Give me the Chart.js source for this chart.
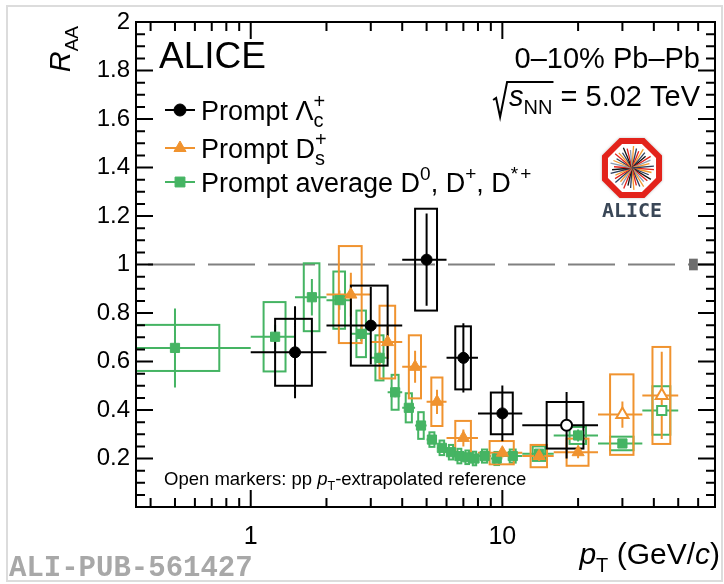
<!DOCTYPE html>
<html>
<head>
<meta charset="utf-8">
<script src="https://cdn.jsdelivr.net/npm/chart.js@4"></script>
<style>
  html, body { margin: 0; padding: 0; background: #fff; }
  canvas { display: block; }
</style>
</head>
<body>
<canvas id="raa" width="724" height="584"></canvas>
<script>
// Prompt Lambda_c+ (black circles)
const lcPt    = [1.5, 3, 5, 7, 10, 18];
const lcR     = [0.638, 0.748, 1.02, 0.615, 0.386, 0.337];
const lcBinLo = [1, 2, 4, 6, 8, 12];
const lcBinHi = [2, 4, 6, 8, 12, 24];
const lcStat  = [0.19, 0.16, 0.19, 0.143, 0.115, 0.137];
const lcSyst  = [0.138, 0.165, 0.21, 0.13, 0.086, 0.096];
const lcBoxHw = [0.25, 0.5, 0.5, 0.5, 1, 3];
const lcOpen  = [false, false, false, false, false, true];

// Prompt Ds+ (orange triangles)
const dsPt    = [2.5, 3.5, 4.5, 5.5, 7, 10, 14, 20, 30, 43];
const dsR     = [0.876, 0.68, 0.578, 0.434, 0.285, 0.224, 0.21, 0.226, 0.381, 0.46];
const dsBinLo = [2, 3, 4, 5, 6, 8, 12, 16, 24, 36];
const dsBinHi = [3, 4, 5, 6, 8, 12, 16, 24, 36, 50];
const dsStat  = [0.09, 0.07, 0.066, 0.05, 0.035, 0.02, 0.02, 0.025, 0.054, 0.18];
const dsSyst  = [0.2, 0.15, 0.13, 0.1, 0.07, 0.048, 0.046, 0.056, 0.166, 0.2];
const dsBoxHw = [0.26, 0.25, 0.25, 0.28, 0.5, 1.1, 1.05, 2, 3.2, 3.5];
const dsOpen  = [false, false, false, false, false, false, false, false, true, true];

// Prompt average D0, D+, D*+ (green squares)
const dPt    = [0.5, 1.25, 1.75, 2.25, 2.75, 3.25, 3.75, 4.25, 4.75, 5.25, 5.75, 6.25, 6.75, 7.25, 7.75, 8.5, 9.5, 11, 14, 20, 30, 43];
const dR     = [0.656, 0.702, 0.865, 0.853, 0.714, 0.615, 0.473, 0.409, 0.336, 0.278, 0.244, 0.226, 0.21, 0.205, 0.2, 0.21, 0.2, 0.21, 0.22, 0.295, 0.262, 0.398];
const dBinLo = [0, 1, 1.5, 2, 2.5, 3, 3.5, 4, 4.5, 5, 5.5, 6, 6.5, 7, 7.5, 8, 9, 10, 12, 16, 24, 36];
const dBinHi = [1, 1.5, 2, 2.5, 3, 3.5, 4, 4.5, 5, 5.5, 6, 6.5, 7, 7.5, 8, 9, 10, 12, 16, 24, 36, 50];
const dStat  = [0.163, 0.05, 0.075, 0.04, 0.03, 0.025, 0.02, 0.015, 0.012, 0.01, 0.01, 0.01, 0.01, 0.01, 0.01, 0.01, 0.01, 0.012, 0.015, 0.025, 0.015, 0.02];
const dSyst  = [0.095, 0.143, 0.14, 0.118, 0.096, 0.093, 0.072, 0.06, 0.055, 0.03, 0.03, 0.03, 0.03, 0.028, 0.028, 0.027, 0.027, 0.027, 0.03, 0.035, 0.028, 0.1];
const dBoxHw = [0.25, 0.125, 0.125, 0.12, 0.12, 0.12, 0.12, 0.12, 0.12, 0.12, 0.12, 0.12, 0.12, 0.12, 0.12, 0.2, 0.2, 0.3, 0.8, 1.5, 3.2, 3.5];
const dOpen  = dPt.map((p, i) => i === dPt.length - 1);

// normalisation uncertainty box at R_AA = 1
const normPt = 57.5;
const normHw = 2.3;
const normUnc = 0.024;

const xTickValues = [1, 10];

const BLACK = '#000000';
const ORANGE = '#f0932f';
const GREEN = '#45b463';
const FONT = '"Liberation Sans", Arial, sans-serif';

function font(size, italic, bold) {
  return (italic ? 'italic ' : '') + (bold ? 'bold ' : '') + size + 'px ' + FONT;
}

// text with sub/superscripts: parts = [{t, s, i, dy, k, g}] (k: keep x for stacked sub/sup, g: extra gap after)
function richWidth(ctx, parts) {
  let w = 0, hold = 0;
  for (const p of parts) {
    ctx.font = font(p.s, p.i);
    const pw = ctx.measureText(p.t).width;
    if (p.k) hold = pw; else { w += Math.max(pw, hold) + (p.g || 0); hold = 0; }
  }
  return w + hold;
}
function drawRich(ctx, parts, x, y, align) {
  const w = richWidth(ctx, parts);
  let cx = align === 'right' ? x - w : (align === 'center' ? x - w / 2 : x);
  let hold = 0;
  ctx.textAlign = 'left';
  ctx.textBaseline = 'alphabetic';
  for (const p of parts) {
    ctx.font = font(p.s, p.i);
    const pw = ctx.measureText(p.t).width;
    ctx.fillText(p.t, cx, y + (p.dy || 0));
    if (p.k) hold = pw; else { cx += Math.max(pw, hold) + (p.g || 0); hold = 0; }
  }
  return cx;
}

const series = [
  { pt: dPt, r: dR, lo: dBinLo, hi: dBinHi, stat: dStat, syst: dSyst, hw: dBoxHw, color: GREEN },
  { pt: dsPt, r: dsR, lo: dsBinLo, hi: dsBinHi, stat: dsStat, syst: dsSyst, hw: dsBoxHw, color: ORANGE },
  { pt: lcPt, r: lcR, lo: lcBinLo, hi: lcBinHi, stat: lcStat, syst: lcSyst, hw: lcBoxHw, color: BLACK }
];

function drawMarker(ctx, style, x, y, color, r) {
  if (Chart.helpers && Chart.helpers.drawPoint) {
    ctx.fillStyle = color;
    ctx.strokeStyle = color;
    ctx.lineWidth = 1;
    Chart.helpers.drawPoint(ctx, { pointStyle: style, radius: r, borderWidth: 1, rotation: 0 }, x, y);
  }
}

function drawLogo(ctx, cx, cy) {
  const rOut = 32.5;
  const oct = (rad) => {
    ctx.beginPath();
    for (let k = 0; k < 8; k++) {
      const a = Math.PI / 8 + k * Math.PI / 4;
      const x = cx + rad * Math.cos(a), y = cy + rad * Math.sin(a);
      if (k === 0) ctx.moveTo(x, y); else ctx.lineTo(x, y);
    }
    ctx.closePath();
  };
  ctx.save();
  ctx.shadowColor = 'rgba(0,0,0,0.25)';
  ctx.shadowBlur = 3;
  oct(rOut); ctx.fillStyle = '#e3231b'; ctx.fill();
  ctx.shadowBlur = 0;
  oct(rOut - 6.5); ctx.fillStyle = '#ffffff'; ctx.fill();
  const rayColors = ['#e3231b', '#f39a2f', '#2c3e5c', '#111111', '#e3231b', '#8a9ab0', '#f39a2f', '#2c3e5c'];
  ctx.lineWidth = 1.3;
  for (let i = 0; i < 40; i++) {
    const a = i * Math.PI * 2 / 40 + 0.07;
    const len = 22 - (i % 3) * 2;
    ctx.strokeStyle = rayColors[i % rayColors.length];
    ctx.beginPath();
    ctx.moveTo(cx, cy);
    ctx.lineTo(cx + len * Math.cos(a), cy + len * Math.sin(a));
    ctx.stroke();
  }
  ctx.fillStyle = '#3a4757';
  ctx.font = 'bold 20px "DejaVu Sans Mono", monospace';
  ctx.textAlign = 'center';
  ctx.textBaseline = 'alphabetic';
  ctx.fillText('ALICE', cx, cy + 49);
  ctx.restore();
}

const decor = {
  id: 'decor',
  beforeDraw(chart) {
    const ctx = chart.ctx;
    ctx.save();
    ctx.strokeStyle = '#dcdcdc';
    ctx.lineWidth = 2;
    ctx.strokeRect(7, 6, 715, 575);
    ctx.restore();
  },
  beforeDatasetsDraw(chart) {
    const ctx = chart.ctx, a = chart.chartArea;
    const xs = chart.scales.x, ys = chart.scales.y;
    const px = v => xs.getPixelForValue(Math.max(v, xs.min));
    const py = v => ys.getPixelForValue(v);
    ctx.save();
    ctx.beginPath();
    ctx.rect(a.left, a.top, a.right - a.left, a.bottom - a.top);
    ctx.clip();
    // dashed line at 1
    ctx.strokeStyle = '#808080';
    ctx.lineWidth = 2;
    ctx.setLineDash([47, 13]);
    ctx.lineDashOffset = -12;
    ctx.beginPath();
    ctx.moveTo(a.left, py(1));
    ctx.lineTo(a.right, py(1));
    ctx.stroke();
    ctx.setLineDash([]);
    ctx.fillStyle = '#6e6e6e';
    const nx0 = px(normPt - normHw), nx1 = px(normPt + normHw);
    ctx.fillRect(nx0, py(1 + normUnc), nx1 - nx0, py(1 - normUnc) - py(1 + normUnc));
    // systematic boxes and statistical bars
    for (const s of series) {
      ctx.strokeStyle = s.color;
      ctx.lineWidth = 2;
      s.pt.forEach((pt, i) => {
        const x0 = px(pt - s.hw[i]), x1 = px(pt + s.hw[i]);
        const y0 = py(s.r[i] + s.syst[i]), y1 = py(s.r[i] - s.syst[i]);
        ctx.strokeRect(x0, y0, x1 - x0, y1 - y0);
      });
      ctx.beginPath();
      s.pt.forEach((pt, i) => {
        ctx.moveTo(px(s.lo[i]), py(s.r[i]));
        ctx.lineTo(px(s.hi[i]), py(s.r[i]));
        ctx.moveTo(px(pt), py(s.r[i] - s.stat[i]));
        ctx.lineTo(px(pt), py(s.r[i] + s.stat[i]));
      });
      ctx.stroke();
    }
    ctx.restore();
  },
  afterDraw(chart) {
    const ctx = chart.ctx, a = chart.chartArea;
    const xs = chart.scales.x, ys = chart.scales.y;
    ctx.save();
    // frame
    ctx.strokeStyle = '#000';
    ctx.lineWidth = 2;
    ctx.strokeRect(a.left, a.top, a.right - a.left, a.bottom - a.top);
    // ticks
    ctx.beginPath();
    for (let k = 0; k <= 40; k++) {
      const v = k * 0.05;
      const y = ys.getPixelForValue(v);
      const len = k % 4 === 0 ? 17 : 9;
      ctx.moveTo(a.left, y); ctx.lineTo(a.left + len, y);
      ctx.moveTo(a.right, y); ctx.lineTo(a.right - len, y);
    }
    for (const d of [0.1, 1, 10]) {
      for (let k = 1; k <= 9; k++) {
        const v = k * d;
        if (v < xs.min || v > xs.max) continue;
        const x = xs.getPixelForValue(v);
        const len = k === 1 ? 17 : 9;
        ctx.moveTo(x, a.bottom); ctx.lineTo(x, a.bottom - len);
        ctx.moveTo(x, a.top); ctx.lineTo(x, a.top + len);
      }
    }
    ctx.stroke();

    ctx.fillStyle = '#000';
    // ALICE label
    ctx.font = font(37);
    ctx.textAlign = 'left';
    ctx.textBaseline = 'alphabetic';
    ctx.fillText('ALICE', 159, 68);

    // legend
    const rows = [
      { y: 110, style: 'circle', color: BLACK, r: 6,
        parts: [{ t: 'Prompt \u039B', s: 27 }, { t: 'c', s: 20, dy: 7, k: true }, { t: '+', s: 20, dy: -12 }] },
      { y: 148, style: 'triangle', color: ORANGE, r: 7,
        parts: [{ t: 'Prompt D', s: 27 }, { t: 's', s: 20, dy: 7, k: true }, { t: '+', s: 20, dy: -12 }] },
      { y: 182, style: 'rect', color: GREEN, r: 7,
        parts: [{ t: 'Prompt average D', s: 27 }, { t: '0', s: 19, dy: -12 }, { t: ', D', s: 27 }, { t: '+', s: 19, dy: -12 },
                { t: ', D', s: 27 }, { t: '*', s: 19, dy: -12, g: 2 }, { t: '+', s: 19, dy: -12 }] }
    ];
    for (const row of rows) {
      ctx.strokeStyle = row.color;
      ctx.lineWidth = 2;
      ctx.beginPath();
      ctx.moveTo(165, row.y); ctx.lineTo(195, row.y);
      ctx.stroke();
      drawMarker(ctx, row.style, 180, row.y, row.color, row.r);
      ctx.fillStyle = '#000';
      drawRich(ctx, row.parts, 201, row.y + 9.5, 'left');
    }

    // system label
    ctx.fillStyle = '#000';
    drawRich(ctx, [{ t: '0\u201310% Pb\u2013Pb', s: 29 }], 700, 68, 'right');
    const eParts = [{ t: 's', s: 29, i: true }, { t: 'NN', s: 20, dy: 8 }, { t: ' = 5.02 TeV', s: 29 }];
    const eW = richWidth(ctx, eParts);
    const sx = 700 - eW;
    drawRich(ctx, eParts, 700, 106, 'right');
    // sqrt sign
    ctx.strokeStyle = '#000';
    ctx.lineWidth = 2;
    ctx.beginPath();
    ctx.moveTo(sx - 16, 100);
    ctx.lineTo(sx - 13, 98);
    ctx.lineTo(sx - 9, 117);
    ctx.lineTo(sx - 2, 82);
    ctx.lineTo(sx + richWidth(ctx, eParts.slice(0, 2)) + 1, 82);
    ctx.stroke();

    drawLogo(ctx, 632, 168);

    // open markers note
    ctx.fillStyle = '#000';
    drawRich(ctx, [{ t: 'Open markers: pp ', s: 18.5 }, { t: 'p', s: 18.5, i: true }, { t: 'T', s: 12.5, dy: 5 },
                   { t: '-extrapolated reference', s: 18.5 }], 164, 485, 'left');

    // y title
    ctx.save();
    ctx.translate(70, 26);
    ctx.rotate(-Math.PI / 2);
    drawRich(ctx, [{ t: 'R', s: 29, i: true }, { t: 'AA', s: 19, dy: 8 }], 0, 0, 'right');
    ctx.restore();

    // x title
    drawRich(ctx, [{ t: 'p', s: 30, i: true }, { t: 'T', s: 20, dy: 8 }, { t: ' (GeV/', s: 30 }, { t: 'c', s: 30, i: true },
                   { t: ')', s: 30 }], 720, 564, 'right');

    // publication id
    ctx.fillStyle = '#a8a8a8';
    ctx.font = 'bold 29px "Liberation Mono", "DejaVu Sans Mono", monospace';
    ctx.textAlign = 'left';
    ctx.fillText('ALI-PUB-561427', 9, 576);
    ctx.restore();
  }
};

function makeSet(pt, r, open, color, style, radius) {
  return {
    data: pt.map((x, i) => ({ x: x, y: r[i] })),
    showLine: false,
    pointStyle: style,
    pointRadius: radius,
    pointHoverRadius: radius,
    pointBackgroundColor: open.map(o => (o ? '#ffffff' : color)),
    pointBorderColor: color,
    pointBorderWidth: open.map(o => (o ? 2 : 1))
  };
}

new Chart(document.getElementById('raa'), {
  type: 'scatter',
  data: {
    datasets: [
      makeSet(lcPt, lcR, lcOpen, BLACK, 'circle', 5.5),
      makeSet(dsPt, dsR, dsOpen, ORANGE, 'triangle', 7),
      makeSet(dPt, dR, dOpen, GREEN, 'rect', 6.5)
    ]
  },
  options: {
    responsive: false,
    animation: false,
    layout: { padding: { top: 22, right: 4, left: 0, bottom: 0 } },
    plugins: { legend: { display: false }, tooltip: { enabled: false } },
    scales: {
      x: {
        type: 'logarithmic',
        min: 0.35,
        max: 70,
        grid: { display: false, drawTicks: false },
        border: { display: false },
        afterBuildTicks: s => { s.ticks = xTickValues.map(v => ({ value: v })); },
        afterFit: s => { s.height = 77; },
        ticks: {
          autoSkip: false,
          maxRotation: 0,
          padding: 15,
          color: '#000',
          font: { family: FONT, size: 25 },
          callback: v => String(v)
        }
      },
      y: {
        min: 0,
        max: 2,
        grid: { display: false, drawTicks: false },
        border: { display: false },
        afterFit: s => { s.width = 136; },
        ticks: {
          stepSize: 0.2,
          padding: 6,
          color: '#000',
          font: { family: FONT, size: 24 },
          callback: v => (v === 0 ? '' : String(Math.round(v * 10) / 10))
        }
      }
    }
  },
  plugins: [decor]
});
</script>
</body>
</html>
